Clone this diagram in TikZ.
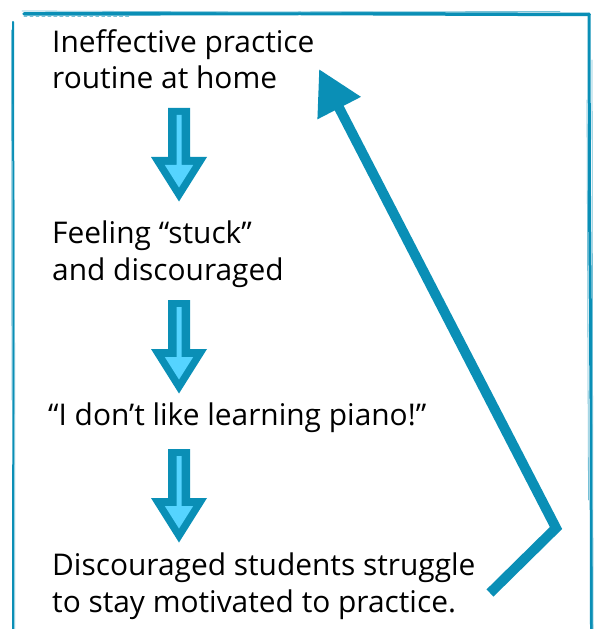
\documentclass[tikz,border=0pt]{standalone}
\usepackage{fontspec}
\setmainfont{Open Sans}
\usetikzlibrary{arrows.meta}
\definecolor{tealdark}{HTML}{0A8FB6}
\definecolor{cyanlight}{HTML}{55D4FF}
\tikzset{
  labeltext/.style={inner sep=0pt, anchor=base west, align=left,
    font=\fontsize{30}{37}\selectfont, text=black},
  framemain/.style={draw=tealdark, line cap=round},
  framesketch/.style={draw=tealdark!55, line cap=round, line width=0.8bp},
  blockarrow/.pic={
    \fill[tealdark] (-11,0) -- (11,0) -- (11,49) -- (28,49) -- (0,93.5)
      -- (-28,49) -- (-11,49) -- cycle;
    \fill[cyanlight] (-2.5,7) -- (2.5,7) -- (2.5,57) -- (14.2,57) -- (0,79.5)
      -- (-14.2,57) -- (-2.5,57) -- cycle;
  },
  feedback/.style={draw=tealdark, line width=10bp, line join=miter,
    -{Triangle[length=44bp,width=46bp]}},
}
\begin{document}
\begin{tikzpicture}[x=1bp,y=-1bp]
\useasboundingbox (0,0) rectangle (596,629);

% sketchy frame
\draw[framemain, line width=3.5bp] (24,14) -- (300,13.5) -- (589,14.5);
\draw[framesketch] (22,11) -- (250,12) -- (560,11.5);
\draw[framesketch, dashed] (24,16.5) -- (130,16.5);
\draw[framemain, line width=2bp] (13,22) -- (13.5,300) -- (13,629);
\draw[framesketch] (11.5,30) -- (12,400);
\draw[framesketch] (14.5,200) -- (14.8,629);
\draw[framemain, line width=3bp] (589,14) -- (589.5,200) -- (591,400) -- (591.5,629);
\draw[framesketch] (592,60) -- (593,629);
\draw[framesketch] (587,100) -- (588.5,500);

% texts (anchor is the baseline of the last line)
\node[labeltext] (t1) at (52,89) {Ineffective practice\\routine at home};
\node[labeltext] (t2) at (52,280) {Feeling “stuck”\\and discouraged};
\node[labeltext] (t3) at (48,425) {“I don’t like learning piano!”};
\node[labeltext] (t4) at (52,612) {Discouraged students struggle\\to stay motivated to practice.};

% block arrows
\pic at (179,108) {blockarrow};
\pic at (179,300) {blockarrow};
\pic at (179,449) {blockarrow};

% feedback arrow
\coordinate (fbstart) at (490,593);
\coordinate (fbcorner) at (556,528);
\coordinate (fbtip) at (319,69);
\draw[feedback] (fbstart) -- (fbcorner) -- (fbtip);
\end{tikzpicture}
\end{document}
